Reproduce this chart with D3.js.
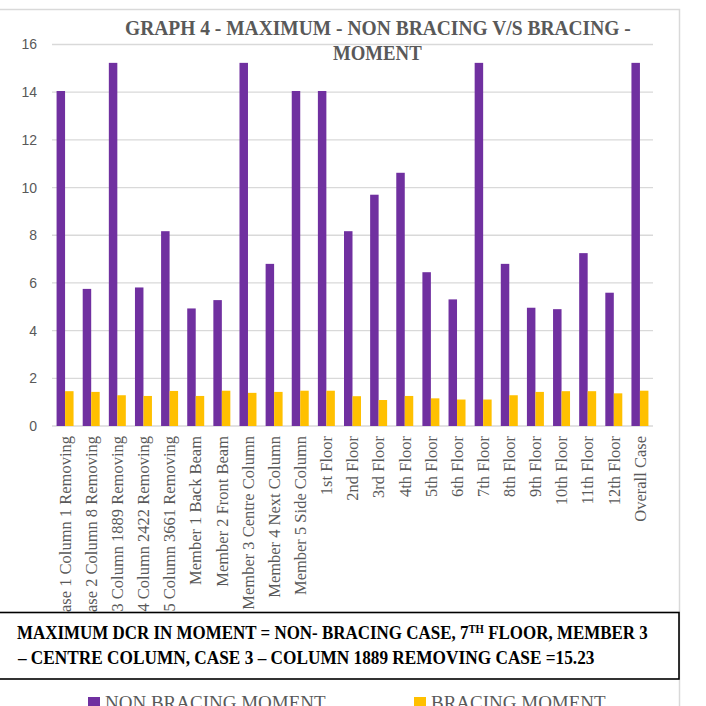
<!DOCTYPE html>
<html>
<head>
<meta charset="utf-8">
<script src="https://cdn.jsdelivr.net/npm/d3@7"></script>
<style>
html,body{margin:0;padding:0;background:#fff;overflow:hidden;}
svg{display:block;}
</style>
</head>
<body>
<svg id="chart" width="706" height="706"></svg>
<script>
const categories = [
  "Case 1 Column 1 Removing","Case 2 Column 8 Removing","Case 3 Column 1889 Removing",
  "Case 4 Column 2422 Removing","Case 5 Column 3661 Removing","Member 1 Back Beam",
  "Member 2 Front Beam","Member 3 Centre Column","Member 4 Next Column","Member 5 Side Column",
  "1st Floor","2nd Floor","3rd Floor","4th Floor","5th Floor","6th Floor","7th Floor",
  "8th Floor","9th Floor","10th Floor","11th Floor","12th Floor","Overall Case"
];
const nonBracing = [14.05,5.75,15.23,5.81,8.17,4.93,5.28,15.23,6.80,14.05,14.05,8.17,9.70,10.62,6.45,5.31,15.23,6.80,4.96,4.90,7.25,5.59,15.23];
const bracing = [1.46,1.43,1.29,1.26,1.47,1.26,1.48,1.39,1.43,1.48,1.48,1.25,1.09,1.26,1.16,1.11,1.11,1.29,1.43,1.46,1.46,1.37,1.48];
const seriesNames = ["NON BRACING MOMENT","BRACING MOMENT"];
const seriesColors = ["#7030A0","#FFC000"];
const yTicks = [0,2,4,6,8,10,12,14,16];
const titleLines = ["GRAPH 4 - MAXIMUM - NON BRACING V/S BRACING -","MOMENT"];

const svg = d3.select("#chart");

// outer chart frame
svg.append("rect").attr("x",-6).attr("y",9.5).attr("width",685.5).attr("height",720)
  .attr("fill","#fff").attr("stroke","#d9d9d9").attr("stroke-width",1.5);

const x0 = d3.scaleBand().domain(categories).range([52,653]).paddingInner(0.35).paddingOuter(0.175);
const x1 = d3.scaleBand().domain([0,1]).range([0,x0.bandwidth()]);
const y = d3.scaleLinear().domain([0,16]).range([426,44.5]);

// gridlines
svg.append("g").selectAll("line").data(yTicks).join("line")
  .attr("x1",52).attr("x2",653)
  .attr("y1",d=>y(d)).attr("y2",d=>y(d))
  .attr("stroke","#d9d9d9").attr("stroke-width",1.3);

// y axis labels
const yAxis = svg.append("g").attr("transform","translate(37,0)")
  .call(d3.axisLeft(y).tickValues(yTicks).tickSize(0).tickPadding(0));
yAxis.select(".domain").remove();
yAxis.selectAll("text").attr("font-family","'Liberation Sans', Arial, sans-serif")
  .attr("font-size",14).attr("fill","#595959");

// bars
const rows = categories.map((c,i)=>({cat:c, vals:[nonBracing[i],bracing[i]]}));
const grp = svg.append("g").selectAll("g").data(rows).join("g")
  .attr("transform",d=>`translate(${x0(d.cat)},0)`);
grp.selectAll("rect").data(d=>d.vals.map((v,k)=>({k,v}))).join("rect")
  .attr("x",d=>x1(d.k)).attr("width",x1.bandwidth())
  .attr("y",d=>y(d.v)).attr("height",d=>y(0)-y(d.v))
  .attr("fill",d=>seriesColors[d.k]);

// x axis labels
const xAxis = svg.append("g").attr("transform","translate(0,426)")
  .call(d3.axisBottom(x0).tickSize(0).tickPadding(0));
xAxis.select(".domain").remove();
xAxis.selectAll("text")
  .attr("font-family","'Liberation Serif', 'Times New Roman', serif")
  .attr("font-size",16.5).attr("fill","#595959")
  .attr("text-anchor","end")
  .attr("transform","rotate(-90)")
  .attr("x",-10).attr("y",0).attr("dy","0.35em");

// title
function fit(sel, left, width){
  const bb = sel.node().getBBox();
  const s = width / bb.width;
  sel.attr("transform",`translate(${left},0) scale(${s},1) translate(${-bb.x},0)`);
}
const t1 = svg.append("text").attr("x",0).attr("y",35)
  .attr("font-family","'Liberation Serif', serif").attr("font-weight","bold")
  .attr("font-size",20.5).attr("fill","#595959").text(titleLines[0]);
fit(t1,125,506);
const t2 = svg.append("text").attr("x",0).attr("y",60)
  .attr("font-family","'Liberation Serif', serif").attr("font-weight","bold")
  .attr("font-size",20.5).attr("fill","#595959").text(titleLines[1]);
fit(t2,333,89);

// annotation box
svg.append("rect").attr("x",-5).attr("y",612.5).attr("width",684).attr("height",66.5)
  .attr("fill","#fff").attr("stroke","#000").attr("stroke-width",1.6);
const b1 = svg.append("text").attr("x",0).attr("y",639)
  .attr("font-family","'Liberation Serif', serif").attr("font-weight","bold")
  .attr("font-size",19).attr("fill","#000");
b1.append("tspan").text("MAXIMUM DCR IN MOMENT = NON- BRACING CASE, 7");
b1.append("tspan").attr("font-size",12).attr("dy",-6).text("TH");
b1.append("tspan").attr("dy",6).text(" FLOOR, MEMBER 3");
fit(b1,17,631);
const b2 = svg.append("text").attr("x",0).attr("y",664)
  .attr("font-family","'Liberation Serif', serif").attr("font-weight","bold")
  .attr("font-size",19).attr("fill","#000")
  .text("\u2013 CENTRE COLUMN, CASE 3 \u2013 COLUMN 1889 REMOVING CASE =15.23");
fit(b2,17,578);

// legend
const legX = [88,414];
const leg = svg.append("g").selectAll("g").data(seriesNames).join("g")
  .attr("transform",(d,i)=>`translate(${legX[i]},697)`);
leg.append("rect").attr("width",12).attr("height",12).attr("fill",(d,i)=>seriesColors[i]);
leg.append("text").attr("x",17).attr("y",11.5)
  .attr("font-family","'Liberation Serif', serif").attr("font-size",19)
  .attr("fill","#595959").text(d=>d);
</script>
</body>
</html>
